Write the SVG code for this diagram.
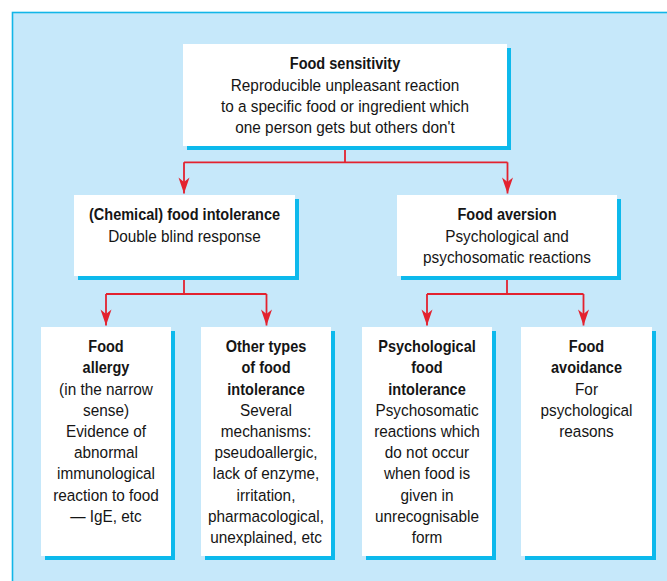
<svg xmlns="http://www.w3.org/2000/svg" width="667" height="581" viewBox="0 0 667 581">
<style>
.box{fill:#ffffff}
.sh{fill:#0db9ec}
.b{font-family:"Liberation Sans",Arial,sans-serif;font-size:16.5px;font-weight:bold;fill:#151515;text-anchor:middle}
.r{font-family:"Liberation Sans",Arial,sans-serif;font-size:16.5px;fill:#151515;text-anchor:middle}
.c{fill:none;stroke:#e3222f;stroke-width:1.8}
</style>
<defs>
<marker id="ah" markerUnits="userSpaceOnUse" markerWidth="20" markerHeight="14" viewBox="-18 -7 20 14" refX="0" refY="0" orient="auto">
<path d="M0,0 L-16,-5.5 L-11.5,0 L-16,5.5 Z" fill="#e3222f"/>
</marker>
</defs>
<rect x="0" y="0" width="667" height="581" fill="#ffffff"/>
<rect x="12.5" y="12.5" width="700" height="620" fill="#c6e8fa" stroke="#12b6e8" stroke-width="1.6"/>

<g id="connectors">
<path class="c" d="M345,146 V162.3"/>
<path class="c" d="M184,162.3 H507.5"/>
<path class="c" d="M184,162.3 V193.5" marker-end="url(#ah)"/>
<path class="c" d="M507.5,162.3 V193.5" marker-end="url(#ah)"/>
<path class="c" d="M184,276 V294"/>
<path class="c" d="M106,294 H266.5"/>
<path class="c" d="M106,294 V325.5" marker-end="url(#ah)"/>
<path class="c" d="M266.5,294 V325.5" marker-end="url(#ah)"/>
<path class="c" d="M507,276 V294"/>
<path class="c" d="M427,294 H583.5"/>
<path class="c" d="M427,294 V325.5" marker-end="url(#ah)"/>
<path class="c" d="M583.5,294 V325.5" marker-end="url(#ah)"/>
</g>

<g id="food-sensitivity">
<rect class="sh" x="187" y="48" width="324" height="102"/>
<rect class="box" x="183" y="44" width="324" height="102"/>
<g transform="translate(345,0) scale(0.88,1)"><text class="b" x="0" y="69">Food sensitivity</text></g>
<g transform="translate(345,0) scale(0.93,1)">
<text class="r" x="0" y="90.7">Reproducible unpleasant reaction</text>
<text class="r" x="0" y="111.7">to a specific food or ingredient which</text>
<text class="r" x="0" y="132.7">one person gets but others don't</text>
</g>
</g>

<g id="chemical-food-intolerance">
<rect class="sh" x="78" y="199" width="221" height="81"/>
<rect class="box" x="74" y="195" width="221" height="81"/>
<g transform="translate(184.5,0) scale(0.88,1)"><text class="b" x="0" y="220.5">(Chemical) food intolerance</text></g>
<g transform="translate(184.5,0) scale(0.93,1)"><text class="r" x="0" y="242">Double blind response</text></g>
</g>

<g id="food-aversion">
<rect class="sh" x="401" y="199" width="220" height="81"/>
<rect class="box" x="397" y="195" width="220" height="81"/>
<g transform="translate(507,0) scale(0.88,1)"><text class="b" x="0" y="220.5">Food aversion</text></g>
<g transform="translate(507,0) scale(0.93,1)">
<text class="r" x="0" y="242">Psychological and</text>
<text class="r" x="0" y="263.3">psychosomatic reactions</text>
</g>
</g>

<g id="food-allergy">
<rect class="sh" x="45" y="331" width="130" height="229"/>
<rect class="box" x="41" y="327" width="130" height="229"/>
<g transform="translate(106,0) scale(0.88,1)">
<text class="b" x="0" y="352.3">Food</text>
<text class="b" x="0" y="373.5">allergy</text>
</g>
<g transform="translate(106,0) scale(0.93,1)">
<text class="r" x="0" y="394.7">(in the narrow</text>
<text class="r" x="0" y="415.9">sense)</text>
<text class="r" x="0" y="437.1">Evidence of</text>
<text class="r" x="0" y="458.3">abnormal</text>
<text class="r" x="0" y="479.5">immunological</text>
<text class="r" x="0" y="500.7">reaction to food</text>
<text class="r" x="0" y="521.9">— IgE, etc</text>
</g>
</g>

<g id="other-types">
<rect class="sh" x="205" y="331" width="130" height="229"/>
<rect class="box" x="201" y="327" width="130" height="229"/>
<g transform="translate(266,0) scale(0.88,1)">
<text class="b" x="0" y="352.3">Other types</text>
<text class="b" x="0" y="373.5">of food</text>
<text class="b" x="0" y="394.7">intolerance</text>
</g>
<g transform="translate(266,0) scale(0.93,1)">
<text class="r" x="0" y="415.9">Several</text>
<text class="r" x="0" y="437.1">mechanisms:</text>
<text class="r" x="0" y="458.3">pseudoallergic,</text>
<text class="r" x="0" y="479.5">lack of enzyme,</text>
<text class="r" x="0" y="500.7">irritation,</text>
<text class="r" x="0" y="521.9">pharmacological,</text>
<text class="r" x="0" y="543.1">unexplained, etc</text>
</g>
</g>

<g id="psychological-food-intolerance">
<rect class="sh" x="366" y="331" width="130" height="229"/>
<rect class="box" x="362" y="327" width="130" height="229"/>
<g transform="translate(427,0) scale(0.88,1)">
<text class="b" x="0" y="352.3">Psychological</text>
<text class="b" x="0" y="373.5">food</text>
<text class="b" x="0" y="394.7">intolerance</text>
</g>
<g transform="translate(427,0) scale(0.93,1)">
<text class="r" x="0" y="415.9">Psychosomatic</text>
<text class="r" x="0" y="437.1">reactions which</text>
<text class="r" x="0" y="458.3">do not occur</text>
<text class="r" x="0" y="479.5">when food is</text>
<text class="r" x="0" y="500.7">given in</text>
<text class="r" x="0" y="521.9">unrecognisable</text>
<text class="r" x="0" y="543.1">form</text>
</g>
</g>

<g id="food-avoidance">
<rect class="sh" x="525" y="331" width="131" height="229"/>
<rect class="box" x="521" y="327" width="131" height="229"/>
<g transform="translate(586.5,0) scale(0.88,1)">
<text class="b" x="0" y="352.3">Food</text>
<text class="b" x="0" y="373.5">avoidance</text>
</g>
<g transform="translate(586.5,0) scale(0.93,1)">
<text class="r" x="0" y="394.7">For</text>
<text class="r" x="0" y="415.9">psychological</text>
<text class="r" x="0" y="437.1">reasons</text>
</g>
</g>
</svg>
